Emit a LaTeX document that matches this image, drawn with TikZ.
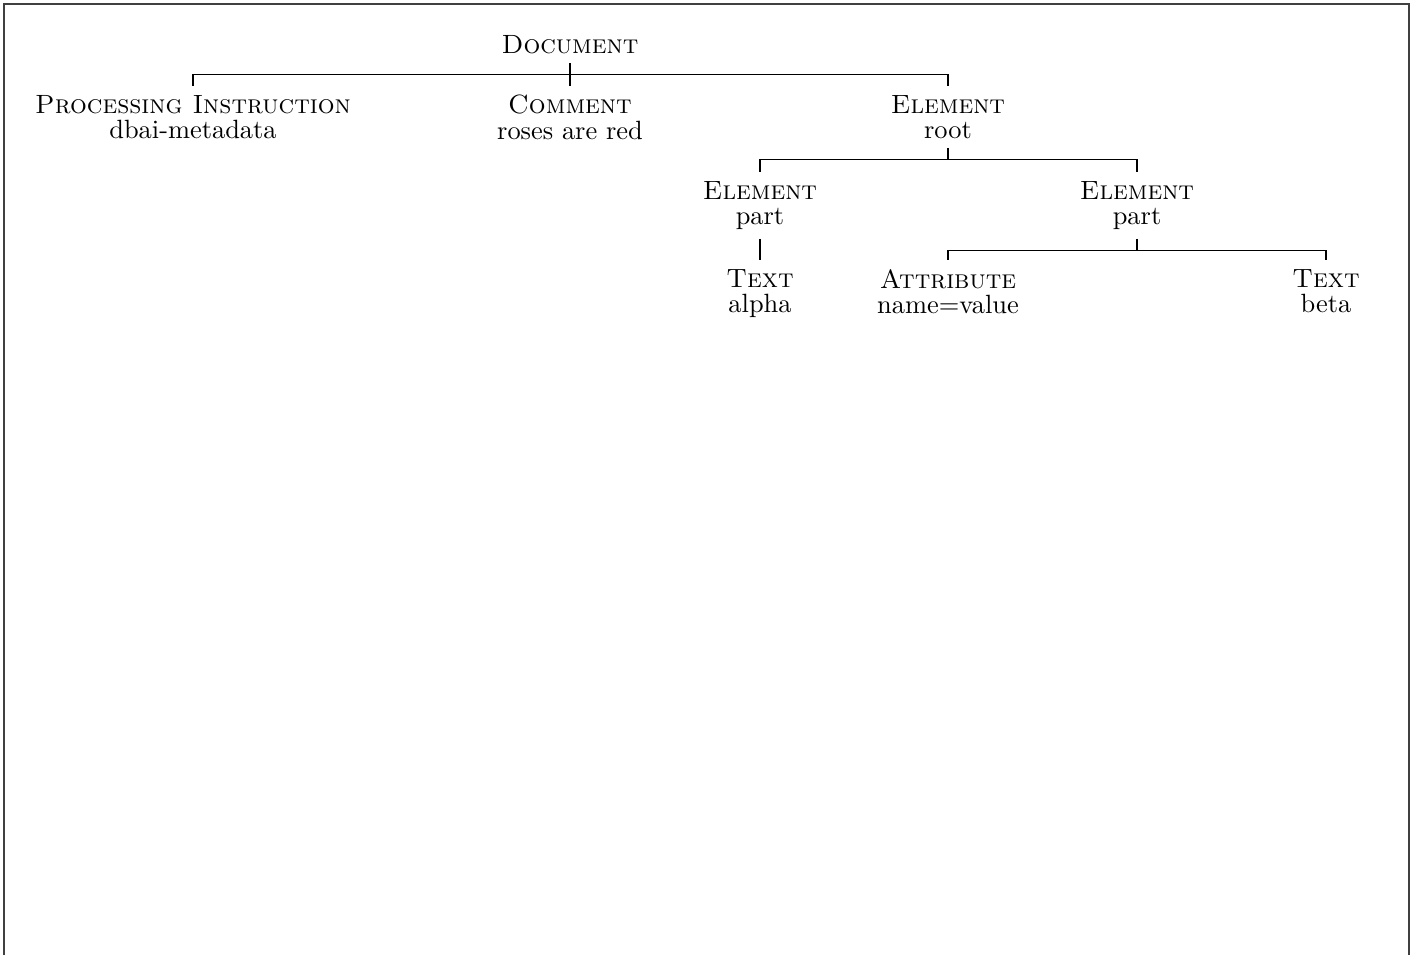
\documentclass[tikz,border=0pt]{standalone}
\usepackage{amsmath,amssymb}
\usepackage{tikz}

\begin{document}
\begin{tikzpicture}[x=0.3787pt,y=-0.3787pt,
    kind/.style={align=center,anchor=north},
    fork/.style={to path={(\tikztostart) -- ++(0,-4.4pt) -| (\tikztotarget)}}]
  \useasboundingbox (0,0) rectangle (1413,955);
  \draw[black!75] (4,955) -- (4,4) -- (1409,4) -- (1409,955);
  \node[kind] (doc)   at (570,26)   {\textsc{Document}};
  \node[kind] (pi)    at (193,86)   {\textsc{Processing Instruction}\\[-2.5pt]dbai-metadata};
  \node[kind] (com)   at (570,86)   {\textsc{Comment}\\[-2.5pt]roses are red};
  \node[kind] (root)  at (948,86)   {\textsc{Element}\\[-2.5pt]root};
  \node[kind] (partA) at (760,172)  {\textsc{Element}\\[-2.5pt]part};
  \node[kind] (partB) at (1137,172) {\textsc{Element}\\[-2.5pt]part};
  \node[kind] (alpha) at (760,260)  {\textsc{Text}\\[-2.5pt]alpha};
  \node[kind] (attr)  at (948,260)  {\textsc{Attribute}\\[-2.5pt]name=value};
  \node[kind] (beta)  at (1326,260) {\textsc{Text}\\[-2.5pt]beta};
  \path
    (doc.south)
      edge [fork] (pi.north)
      edge [fork] (com.north)
      edge [fork] (root.north)
    (root.south)
      edge [fork] (partA.north)
      edge [fork] (partB.north)
    (partA.south)
      edge [fork] (alpha.north)
    (partB.south)
      edge [fork] (attr.north)
      edge [fork] (beta.north)
  ;
\end{tikzpicture}
\end{document}
